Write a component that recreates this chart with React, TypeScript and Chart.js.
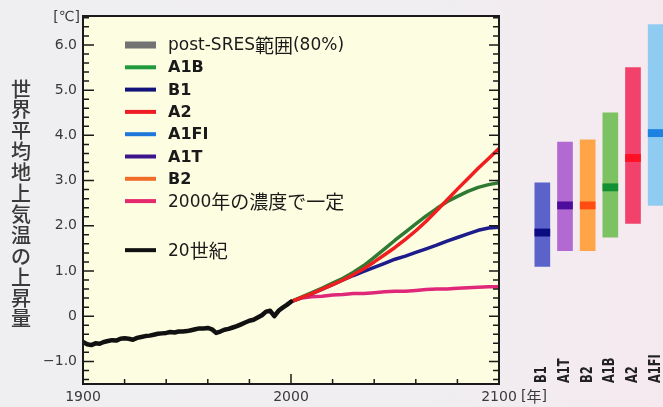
import { useEffect, useRef } from "react";
import { Chart, registerables } from "chart.js";
Chart.register(...registerables);

// ---- data ----
const obsYears = [1900, 1902, 1904, 1906, 1908, 1910, 1912, 1914, 1916, 1918, 1920, 1922, 1924, 1926, 1928, 1930, 1932, 1934, 1936, 1938, 1940, 1942, 1944, 1946, 1948, 1950, 1952, 1954, 1956, 1958, 1960, 1962, 1964, 1966, 1968, 1970, 1972, 1974, 1976, 1978, 1980, 1982, 1984, 1986, 1988, 1990, 1992, 1994, 1996, 1998, 2000];
const obsTemp = [-0.57, -0.62, -0.64, -0.6, -0.61, -0.57, -0.55, -0.53, -0.54, -0.5, -0.49, -0.5, -0.52, -0.48, -0.46, -0.44, -0.43, -0.41, -0.39, -0.38, -0.37, -0.35, -0.36, -0.34, -0.34, -0.33, -0.31, -0.29, -0.27, -0.27, -0.26, -0.29, -0.37, -0.34, -0.3, -0.28, -0.25, -0.22, -0.18, -0.14, -0.1, -0.08, -0.03, 0.02, 0.1, 0.12, 0.0, 0.12, 0.19, 0.25, 0.32];

const projYears = [2000, 2005, 2010, 2015, 2020, 2025, 2030, 2035, 2040, 2045, 2050, 2055, 2060, 2065, 2070, 2075, 2080, 2085, 2090, 2095, 2100];
const a2Temp = [0.32, 0.41, 0.5, 0.6, 0.7, 0.8, 0.92, 1.05, 1.2, 1.36, 1.52, 1.7, 1.89, 2.1, 2.33, 2.57, 2.81, 3.04, 3.27, 3.49, 3.71];
const a1bTemp = [0.32, 0.42, 0.52, 0.62, 0.73, 0.84, 0.97, 1.12, 1.3, 1.49, 1.68, 1.86, 2.04, 2.22, 2.38, 2.53, 2.65, 2.76, 2.85, 2.91, 2.95];
const b1Temp = [0.32, 0.41, 0.5, 0.6, 0.7, 0.8, 0.9, 0.99, 1.08, 1.17, 1.26, 1.33, 1.41, 1.49, 1.57, 1.66, 1.74, 1.82, 1.9, 1.95, 1.97];
const commitTemp = [0.32, 0.4, 0.43, 0.44, 0.47, 0.48, 0.5, 0.5, 0.52, 0.54, 0.55, 0.55, 0.57, 0.59, 0.6, 0.6, 0.62, 0.63, 0.64, 0.65, 0.65];

const legendLabels = ["post-SRES範囲(80%)", "A1B", "B1", "A2", "A1FI", "A1T", "B2", "2000年の濃度で一定", "20世紀"];
const legendColors = ["#737373", "#1f9a3c", "#12127a", "#ee1c24", "#1e78dc", "#3c148c", "#f06c28", "#e6286e", "#111111"];
const legendBold = [false, true, true, true, true, true, true, false, false];

const xTickValues = [1900, 2000, 2100];
const yTickValues = [-1, 0, 1, 2, 3, 4, 5, 6];
const yTitle = "世界平均地上気温の上昇量";
const yUnit = "[℃]";
const xUnit = "[年]";

const rangeLabels = ["B1", "A1T", "B2", "A1B", "A2", "A1FI"];
const rangeLow = [1.1, 1.45, 1.45, 1.75, 2.05, 2.45];
const rangeHigh = [2.95, 3.85, 3.9, 4.5, 5.5, 6.45];
const rangeBest = [1.85, 2.45, 2.45, 2.85, 3.5, 4.05];
const rangeColors = ["#5b62c9", "#b26ad2", "#ffa548", "#7dc262", "#f2426c", "#90ccf2"];
const bestColors = ["#0c0c82", "#4c0c9c", "#ff4c12", "#129034", "#ff1024", "#1e82e2"];

const Y_MIN = -1.5;
const Y_MAX = 6.64;

const CJK_RE = /([\u3000-\u30ff\u3400-\u9fff\uff00-\uffef℃]+)/;

function drawMixed(ctx: CanvasRenderingContext2D, text: string, x: number, y: number, latinFont: string, cjkFont: string) {
  const parts = text.split(CJK_RE).filter((p) => p.length > 0);
  let cx = x;
  for (const p of parts) {
    ctx.font = CJK_RE.test(p) ? cjkFont : latinFont;
    ctx.fillText(p, cx, y);
    cx += ctx.measureText(p).width;
  }
}

const bgPlugin = {
  id: "plotBg",
  beforeDraw(chart: any) {
    const { ctx, chartArea: a } = chart;
    ctx.save();
    ctx.fillStyle = "#fdfde1";
    ctx.fillRect(a.left, a.top, a.right - a.left, a.bottom - a.top);
    ctx.restore();
  },
};

const decoPlugin = {
  id: "deco",
  afterDatasetsDraw(chart: any) {
    const { ctx, chartArea: a, scales } = chart;
    const ys = scales.y;
    const xs = scales.x;
    ctx.save();
    ctx.strokeStyle = "#1a1a1a";
    ctx.lineWidth = 1.5;
    for (let k = -7; k <= 33; k++) {
      const v = k / 5;
      if (v <= Y_MIN || v >= Y_MAX) continue;
      const py = ys.getPixelForValue(v);
      const major = k % 5 === 0;
      ctx.beginPath();
      ctx.moveTo(a.left, py);
      ctx.lineTo(a.left + (major ? 11 : 6), py);
      ctx.moveTo(a.right, py);
      ctx.lineTo(a.right - (major ? 10 : 6), py);
      ctx.stroke();
    }
    for (let yr = 1920; yr <= 2080; yr += 20) {
      const px = xs.getPixelForValue(yr);
      ctx.beginPath();
      ctx.moveTo(px, a.bottom);
      ctx.lineTo(px, a.bottom - (yr === 2000 ? 10 : 5));
      ctx.stroke();
    }
    ctx.lineWidth = 2;
    ctx.strokeRect(a.left, a.top, a.right - a.left, a.bottom - a.top);

    // legend
    ctx.textBaseline = "middle";
    ctx.textAlign = "left";
    for (let i = 0; i < legendLabels.length; i++) {
      const ry = a.top + 29 + (i + (i >= 8 ? 1.2 : 0)) * 22.3;
      const sx = a.left + 42;
      if (i === 0) {
        ctx.fillStyle = legendColors[i];
        ctx.fillRect(sx, ry - 3.5, 31, 7);
      } else {
        ctx.strokeStyle = legendColors[i];
        ctx.lineWidth = 4;
        ctx.beginPath();
        ctx.moveTo(sx, ry);
        ctx.lineTo(sx + 31, ry);
        ctx.stroke();
      }
      ctx.fillStyle = "#1a1a1a";
      const lf = legendBold[i] ? 'bold 16px "DejaVu Sans"' : '17px "DejaVu Sans"';
      drawMixed(ctx, legendLabels[i], sx + 43, ry + 1, lf, '19px "Noto Sans CJK JP"');
    }

    // y title (vertical, upright characters)
    ctx.fillStyle = "#3a3a3a";
    ctx.textAlign = "center";
    ctx.font = '500 20px "Noto Sans CJK JP"';
    Array.from(yTitle).forEach((c, i) => {
      ctx.fillText(c, 21, 89 + i * 20.9);
    });

    // units
    ctx.textAlign = "right";
    ctx.font = '14px "DejaVu Sans"';
    ctx.fillText(yUnit, a.left - 3, a.top + 1);
    ctx.textAlign = "left";
    drawMixed(ctx, xUnit, xs.getPixelForValue(2100) + 22, a.bottom + 12, '14px "DejaVu Sans"', '15px "Noto Sans CJK JP"');
    ctx.restore();
  },
};

const barLabelPlugin = {
  id: "barLabels",
  afterDraw(chart: any) {
    const { ctx, scales } = chart;
    ctx.save();
    ctx.fillStyle = "#222222";
    ctx.font = 'bold 15px "DejaVu Sans"';
    ctx.textAlign = "left";
    ctx.textBaseline = "middle";
    rangeLabels.forEach((lab, i) => {
      const px = scales.x.getPixelForValue(i);
      ctx.save();
      ctx.translate(px, 383);
      ctx.rotate(-Math.PI / 2);
      ctx.scale(0.76, 1);
      ctx.fillText(lab, 0, 0);
      ctx.restore();
    });
    ctx.restore();
  },
};

export default function App() {
  const mainRef = useRef<HTMLCanvasElement | null>(null);
  const sideRef = useRef<HTMLCanvasElement | null>(null);

  useEffect(() => {
    document.body.style.margin = "0";
    const toPts = (xs: number[], vs: number[]) => xs.map((x, i) => ({ x, y: vs[i] }));
    const main = new Chart(mainRef.current as HTMLCanvasElement, {
      type: "line",
      data: {
        datasets: [
          { label: "20世紀", data: toPts(obsYears, obsTemp), borderColor: "#111111", borderWidth: 4.5, order: 0 },
          { label: "A2", data: toPts(projYears, a2Temp), borderColor: "#f01e1e", borderWidth: 3.5, order: 1 },
          { label: "A1B", data: toPts(projYears, a1bTemp), borderColor: "#2f7a32", borderWidth: 3.5, order: 2 },
          { label: "B1", data: toPts(projYears, b1Temp), borderColor: "#1c1c8a", borderWidth: 3.5, order: 3 },
          { label: "2000年の濃度で一定", data: toPts(projYears, commitTemp), borderColor: "#e0287a", borderWidth: 3.5, order: 4 },
        ] as any,
      },
      options: {
        animation: false,
        responsive: false,
        events: [],
        layout: { padding: { left: 0, top: 16, right: 164, bottom: 0 } },
        elements: { point: { radius: 0 }, line: { tension: 0, borderJoinStyle: "round", borderCapStyle: "round" } },
        plugins: { legend: { display: false }, tooltip: { enabled: false } },
        scales: {
          x: {
            type: "linear",
            min: 1900,
            max: 2100,
            grid: { display: false, drawTicks: false },
            border: { display: false },
            afterBuildTicks: (ax: any) => { ax.ticks = xTickValues.map((v) => ({ value: v })); },
            afterFit: (ax: any) => { ax.height = 23; },
            ticks: {
              autoSkip: false,
              maxRotation: 0,
              padding: 5,
              color: "#3a3a3a",
              font: { family: "DejaVu Sans", size: 14 },
              callback: (v: any) => String(v),
            },
          },
          y: {
            type: "linear",
            min: Y_MIN,
            max: Y_MAX,
            grid: { display: false, drawTicks: false },
            border: { display: false },
            afterBuildTicks: (ax: any) => { ax.ticks = yTickValues.map((v) => ({ value: v })); },
            afterFit: (ax: any) => { ax.width = 83; },
            ticks: {
              autoSkip: false,
              padding: 6,
              color: "#3a3a3a",
              font: { family: "DejaVu Sans", size: 14 },
              callback: (v: any) => (v === 0 ? "0" : v < 0 ? "−" + Math.abs(v).toFixed(1) : Number(v).toFixed(1)),
            },
          },
        },
      } as any,
      plugins: [bgPlugin, decoPlugin],
    });

    const side = new Chart(sideRef.current as HTMLCanvasElement, {
      type: "bar",
      data: {
        labels: rangeLabels,
        datasets: [
          {
            label: "best",
            data: rangeBest.map((b) => [b - 0.08, b + 0.08]),
            backgroundColor: bestColors,
            borderWidth: 0,
            barThickness: 15,
            grouped: false,
            order: 0,
          },
          {
            label: "range",
            data: rangeLow.map((lo, i) => [lo, rangeHigh[i]]),
            backgroundColor: rangeColors,
            borderWidth: 0,
            barThickness: 15,
            grouped: false,
            order: 1,
          },
        ] as any,
      },
      options: {
        animation: false,
        responsive: false,
        events: [],
        layout: { padding: { left: 0, top: 16, right: 0, bottom: 23 } },
        plugins: { legend: { display: false }, tooltip: { enabled: false } },
        scales: {
          x: { type: "category", display: false, offset: true },
          y: { type: "linear", min: Y_MIN, max: Y_MAX, display: false },
        },
      } as any,
      plugins: [barLabelPlugin],
    });

    return () => {
      main.destroy();
      side.destroy();
    };
  }, []);

  return (
    <div
      style={{
        position: "fixed",
        left: 0,
        top: 0,
        width: 663,
        height: 407,
        overflow: "hidden",
        background: "linear-gradient(to right, #efeef0 0%, #f0eef1 65%, #f5e9ef 100%)",
      }}
    >
      <canvas ref={mainRef} width={663} height={407} style={{ position: "absolute", left: 0, top: 0, width: 663, height: 407 }} />
      <canvas ref={sideRef} width={136} height={407} style={{ position: "absolute", left: 531, top: 0, width: 136, height: 407 }} />
    </div>
  );
}
